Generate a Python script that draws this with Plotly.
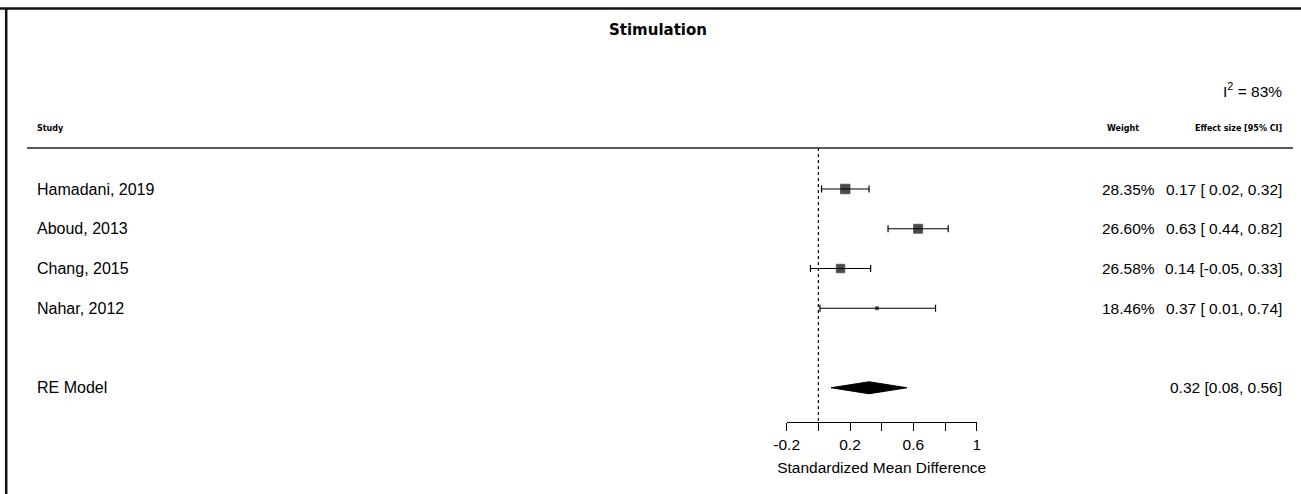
import plotly.graph_objects as go

# ---- data ----
studies = ["Hamadani, 2019", "Aboud, 2013", "Chang, 2015", "Nahar, 2012"]
estimates = [0.17, 0.63, 0.14, 0.37]
ci_lower = [0.02, 0.44, -0.05, 0.01]
ci_upper = [0.32, 0.82, 0.33, 0.74]
weights = ["28.35%", "26.60%", "26.58%", "18.46%"]
effect_labels = ["0.17 [ 0.02, 0.32]", "0.63 [ 0.44, 0.82]",
                 "0.14 [-0.05, 0.33]", "0.37 [ 0.01, 0.74]"]
marker_sizes = [9.5, 9, 8.5, 3]
re_label = "RE Model"
re_est, re_lo, re_hi = 0.32, 0.08, 0.56
re_text = "0.32 [0.08, 0.56]"
i2_text = "I<sup>2</sup> = 83%"
tick_vals = [-0.2, 0.2, 0.6, 1.0]
tick_text = ["-0.2", "0.2", "0.6", "1"]
minor_step = 0.2
title_text = "Stimulation"
x_title = "Standardized Mean Difference"

# ---- layout geometry ----
W, H = 1301, 494
AX_PX = 422            # pixel row of the x axis line
ROW0, ROWH = 189, 39.75
RE_ROW = 5
y_top = -ROW0 / ROWH
y_bot = (AX_PX - ROW0) / ROWH


def yp(px):  # figure pixel -> paper y
    return (AX_PX - px) / AX_PX


def xp(px):
    return px / W


def krow(px):
    return (px - ROW0) / ROWH


rows = list(range(len(studies)))
FONT = "Liberation Sans, Arial, sans-serif"
BOLD = "DejaVu Sans, Verdana, sans-serif"

fig = go.Figure()

# study estimates with CI
fig.add_trace(go.Scatter(
    x=estimates, y=rows, mode="markers",
    marker=dict(symbol="square", size=marker_sizes, color="black",
                line=dict(width=0.8, color="black")),
    error_x=dict(type="data", symmetric=False,
                 array=[u - e for u, e in zip(ci_upper, estimates)],
                 arrayminus=[e - l for e, l in zip(estimates, ci_lower)],
                 color="black", thickness=1.2, width=3.5),
    cliponaxis=False, showlegend=False, hoverinfo="skip"))

# RE diamond
dh = 6 / ROWH
fig.add_trace(go.Scatter(
    x=[re_lo, re_est, re_hi, re_est, re_lo],
    y=[RE_ROW, RE_ROW - dh, RE_ROW, RE_ROW + dh, RE_ROW],
    mode="lines", fill="toself", fillcolor="black",
    line=dict(color="black", width=1), showlegend=False, hoverinfo="skip"))

shapes = [
    # dotted reference line at 0
    dict(type="line", xref="x", yref="y", x0=0, x1=0, y0=krow(148), y1=y_bot,
         line=dict(color="black", width=1.2, dash="dot")),
    # header separator
    dict(type="line", xref="paper", yref="paper", x0=xp(27), x1=xp(1293),
         y0=yp(148), y1=yp(148), line=dict(color="#222", width=1.4)),
    # frame top & left
    dict(type="line", xref="paper", yref="paper", x0=0, x1=1,
         y0=yp(8.5), y1=yp(8.5), line=dict(color="#111", width=2.5)),
    dict(type="line", xref="paper", yref="paper", x0=xp(6.2), x1=xp(6.2),
         y0=yp(8.5), y1=yp(H + 2), line=dict(color="#111", width=2.5)),
]

ann = []
for r, s, w, e in zip(rows, studies, weights, effect_labels):
    ann.append(dict(x=xp(35), y=r, xref="paper", yref="y", text=s,
                    xanchor="left", yanchor="middle", showarrow=False,
                    font=dict(family=FONT, size=16, color="black")))
    ann.append(dict(x=xp(1157), y=r, xref="paper", yref="y", text=w,
                    xanchor="right", yanchor="middle", showarrow=False,
                    font=dict(family=FONT, size=15.5, color="black")))
    ann.append(dict(x=xp(1284), y=r, xref="paper", yref="y", text=e,
                    xanchor="right", yanchor="middle", showarrow=False,
                    font=dict(family=FONT, size=15.5, color="black")))
ann.append(dict(x=xp(35), y=RE_ROW, xref="paper", yref="y", text=re_label,
                xanchor="left", yanchor="middle", showarrow=False,
                font=dict(family=FONT, size=16, color="black")))
ann.append(dict(x=xp(1284), y=RE_ROW, xref="paper", yref="y", text=re_text,
                xanchor="right", yanchor="middle", showarrow=False,
                font=dict(family=FONT, size=15.5, color="black")))
# headers
ann.append(dict(x=xp(35), y=yp(128), xref="paper", yref="paper", text="<b>Study</b>",
                xanchor="left", yanchor="middle", showarrow=False,
                font=dict(family=BOLD, size=8, color="black")))
ann.append(dict(x=xp(1141), y=yp(128), xref="paper", yref="paper", text="<b>Weight</b>",
                xanchor="right", yanchor="middle", showarrow=False,
                font=dict(family=BOLD, size=8, color="black")))
ann.append(dict(x=xp(1284), y=yp(128), xref="paper", yref="paper",
                text="<b>Effect size [95% CI]</b>",
                xanchor="right", yanchor="middle", showarrow=False,
                font=dict(family=BOLD, size=8, color="black")))
ann.append(dict(x=xp(1284), y=yp(90), xref="paper", yref="paper", text=i2_text,
                xanchor="right", yanchor="middle", showarrow=False,
                font=dict(family=FONT, size=15.5, color="black")))
ann.append(dict(x=xp(658), y=yp(30), xref="paper", yref="paper",
                text="<b>" + title_text + "</b>",
                xanchor="center", yanchor="middle", showarrow=False,
                font=dict(family=BOLD, size=15, color="black")))

fig.update_layout(
    width=W, height=H,
    margin=dict(l=0, r=0, t=0, b=H - AX_PX, pad=0, autoexpand=False),
    paper_bgcolor="white", plot_bgcolor="white",
    shapes=shapes, annotations=ann,
    xaxis=dict(domain=[xp(786.7), xp(976.7)], range=[-0.2, 1.0],
               showline=True, linecolor="black", linewidth=1.2,
               ticks="outside", ticklen=8, tickwidth=1.2, tickcolor="black",
               tickvals=tick_vals, ticktext=tick_text, automargin=False,
               minor=dict(ticks="outside", ticklen=8, tickwidth=1.2,
                          tickcolor="black", tick0=0, dtick=minor_step,
                          showgrid=False),
               tickfont=dict(family=FONT, size=15.5, color="black"),
               showgrid=False, zeroline=False,
               title=dict(text=x_title, standoff=10,
                          font=dict(family=FONT, size=15.5, color="black"))),
    yaxis=dict(range=[y_bot, y_top], visible=False, showgrid=False,
               zeroline=False, automargin=False),
)

fig.write_html(
    "out.html",
    config={"displayModeBar": False},
    post_script="document.body.style.margin='0';"
                "document.body.style.overflow='hidden';",
)
